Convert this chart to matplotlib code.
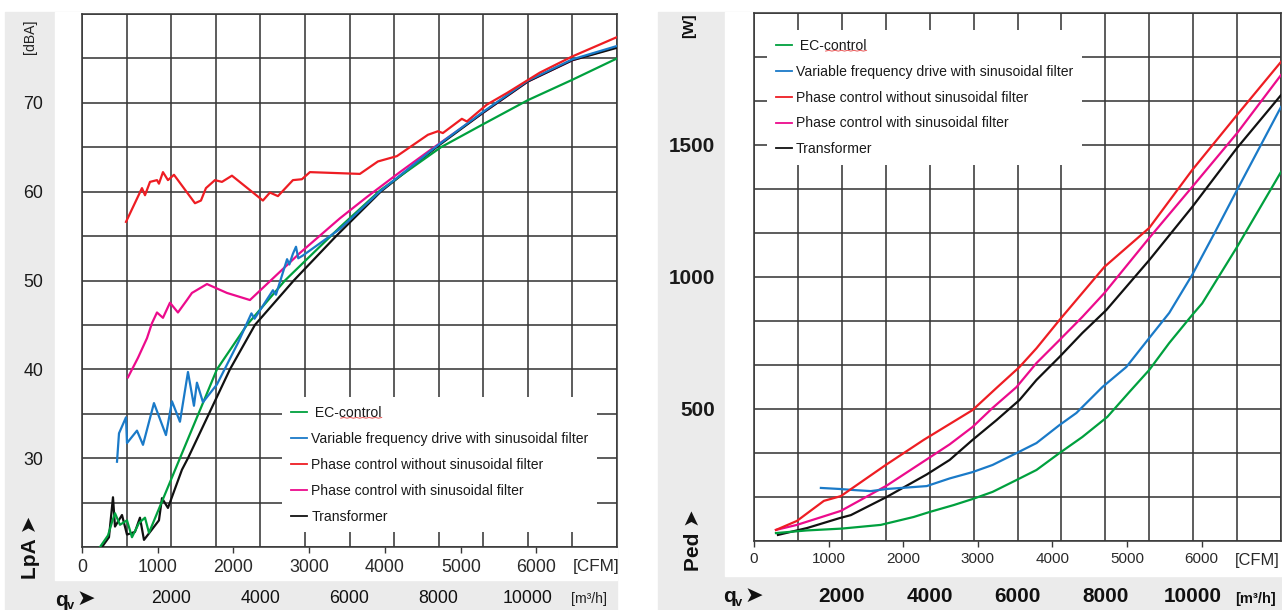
import numpy as np
import matplotlib
matplotlib.use("Agg")
import matplotlib.pyplot as plt
from matplotlib import font_manager, transforms
from matplotlib.lines import Line2D
from matplotlib.patches import Rectangle

W, H = 1282, 610
CFM_TO_M3H = 1.699

LABELS = ["EC-control",
          "Variable frequency drive with sinusoidal filter",
          "Phase control without sinusoidal filter",
          "Phase control with sinusoidal filter",
          "Transformer"]
COLORS = ["#00a03e", "#1a7ac8", "#ee1d23", "#ec0b8c", "#111111"]

# ---- left chart: LpA [dBA] over qv [m3/h]
ec_q = [404, 583, 673, 740, 852, 1009, 1121, 1278, 1413, 1502, 1800, 2197, 3027,
        3700, 4552, 5785, 6700, 8050, 9000, 10000, 11000, 12000]
ec_lpa = [20.0, 21.3, 22.8, 23.8, 22.5, 23.0, 21.1, 22.7, 23.3, 21.6, 25.2, 30.0,
          40.0, 45.0, 50.0, 56.0, 60.2, 65.0, 67.6, 70.3, 72.6, 75.0]

vfd_q = [785, 830, 987, 1009, 1233, 1368, 1614, 1883, 2018, 2197, 2377, 2511, 2578,
         2713, 3027, 3500, 3800, 3870, 4282, 4350, 4600, 4650, 4730, 4800, 4850,
         4950, 5785, 6700, 8000, 9000, 10000, 11000, 12000]
vfd_lpa = [29.6, 32.8, 34.6, 31.7, 33.1, 31.5, 36.2, 32.6, 36.4, 34.1, 39.7, 35.9, 38.5,
           36.3, 38.3, 43.0, 46.3, 45.7, 48.9, 48.4, 52.4, 51.8, 53.0, 53.8, 52.5,
           52.8, 55.8, 60.1, 65.3, 69.0, 72.5, 74.9, 76.4]

pc_q = [987, 1345, 1413, 1525, 1682, 1726, 1816, 1928, 2063, 2534, 2668, 2780, 2982,
        3139, 3363, 4058, 4215, 4395, 4731, 4933, 5112, 6233, 6637, 7063, 7758, 7982,
        8094, 8520, 8632, 9081, 9529, 10269, 10987, 12000]
pc_lpa = [56.6, 60.4, 59.6, 61.1, 61.3, 60.9, 62.2, 61.3, 61.9, 58.7, 59.0, 60.4, 61.3,
          61.1, 61.8, 59.0, 59.9, 59.5, 61.3, 61.4, 62.2, 62.0, 63.4, 64.0, 66.4, 66.8,
          66.6, 68.2, 67.9, 69.8, 71.1, 73.4, 75.2, 77.4]

pcf_q = [1031, 1256, 1457, 1570, 1682, 1816, 1973, 2152, 2354, 2466, 2803, 3251, 3767,
         4888, 5785, 6390, 7130, 7870, 9000, 10000, 11000, 12000]
pcf_lpa = [39.1, 41.3, 43.5, 45.2, 46.4, 45.8, 47.5, 46.4, 47.8, 48.6, 49.6, 48.6, 47.8,
           53.1, 57.0, 59.4, 62.2, 64.9, 68.9, 72.4, 74.8, 76.3]

tr_q = [448, 605, 695, 740, 897, 1009, 1188, 1300, 1390, 1726, 1794, 1928, 2242, 2377,
        3318, 3879, 4750, 5700, 6700, 8000, 9000, 10000, 11000, 12000]
tr_lpa = [20.0, 21.1, 25.6, 22.3, 23.6, 21.4, 21.7, 23.3, 20.8, 23.0, 25.5, 24.4, 28.7,
          30.0, 40.0, 45.0, 50.0, 55.0, 60.0, 65.2, 68.9, 72.4, 74.8, 76.2]

# ---- right chart: Ped [W] over qv [m3/h]
ec_q2 = [500, 1200, 2000, 2886, 3636, 4000, 4545, 4977, 5432, 5977, 6432, 6955, 7477,
         8045, 8545, 9000, 9455, 9977, 10205, 11000, 12000]
ec_p = [30, 40, 47, 61, 91, 110, 136, 159, 186, 231, 269, 333, 394,
        470, 564, 648, 750, 856, 900, 1114, 1398]

vfd_q2 = [1523, 1955, 2273, 2659, 3023, 3932, 4455, 4977, 5432, 5977, 6432, 6955, 7341,
          7932, 8477, 9000, 9455, 9977, 10523, 11000, 12000]
vfd_p = [201, 197, 193, 189, 197, 208, 237, 261, 288, 333, 371, 439, 485,
         583, 659, 769, 864, 1008, 1178, 1330, 1644]

pc_q2 = [500, 977, 1591, 1977, 3000, 3864, 4455, 4977, 5523, 6045, 6432, 6955,
         7977, 9000, 9977, 11000, 12000]
pc_p = [42, 76, 152, 170, 288, 383, 443, 496, 580, 659, 730, 837,
        1038, 1186, 1405, 1614, 1815]

pcf_q2 = [500, 977, 1977, 3023, 3932, 4455, 4977, 5432, 5977, 6432, 6955, 7477, 7977,
          9000, 9977, 11000, 12000]
pcf_p = [42, 61, 114, 210, 309, 366, 432, 504, 583, 674, 761, 849, 939,
         1148, 1341, 1545, 1765]

tr_q2 = [545, 1205, 1955, 2205, 3023, 3932, 4455, 4977, 5523, 6045, 6432, 6955, 7477,
         8023, 9000, 9977, 11000, 12000]
tr_p = [23, 49, 87, 98, 167, 252, 307, 383, 458, 534, 610, 697, 788,
        875, 1064, 1265, 1489, 1689]

CFM_TICKS = [0, 1000, 2000, 3000, 4000, 5000, 6000]
M3H_LABELS = [2000, 4000, 6000, 8000, 10000]

names = {f.name for f in font_manager.fontManager.ttflist}
NARROW = "Liberation Sans Narrow" in names
FONT = "Liberation Sans Narrow" if NARROW else "Liberation Sans"
K = 1.0 if NARROW else 0.88   # shrink wide font so the texts keep their widths
plt.rcParams["font.family"] = [FONT, "DejaVu Sans"]
plt.rcParams["axes.linewidth"] = 1.0

GRID = "#383838"
GRAY = "#ebebeb"

fig = plt.figure(figsize=(W / 100, H / 100), dpi=100)


def px(x, y):
    return x / W, 1 - y / H


def panel_bg(x0, x1, xw, y0, yw):
    # gray L-shaped frame behind each chart
    fig.add_artist(Rectangle(px(x0, H), (x1 - x0) / W, (H - y0) / H,
                             transform=fig.transFigure, color=GRAY, zorder=0))
    fig.add_artist(Rectangle(px(xw, yw), (x1 - xw) / W, (yw - y0) / H,
                             transform=fig.transFigure, color="white", zorder=0))


panel_bg(5, 617, 55, 12, 580)
panel_bg(658, 1282, 725, 12, 576)


def setup(ax, ylim, yticks, ylabels, ylabsize, ylabweight, cfmsize, cfmpad):
    ax.set_xlim(0, 12000)
    ax.set_ylim(*ylim)
    ax.xaxis.remove_overlapping_locs = False
    ax.set_xticks(np.arange(0, 12001, 1000))
    ax.set_xticklabels([])
    ax.set_yticks(yticks)
    ax.set_yticklabels(ylabels)
    ax.tick_params(axis="both", which="major", length=0)
    ax.tick_params(axis="y", pad=28, labelsize=ylabsize, labelcolor="#1a1a1a")
    for t in ax.get_yticklabels():
        t.set_fontweight(ylabweight)
    ax.set_xticks([c * CFM_TO_M3H for c in CFM_TICKS], minor=True)
    ax.set_xticklabels([str(c) for c in CFM_TICKS], minor=True)
    ax.tick_params(axis="x", which="minor", length=4, width=1, color=GRID,
                   direction="out", pad=cfmpad, labelsize=cfmsize, labelcolor="#2a2a2a")
    ax.grid(True, which="major", color=GRID, lw=1.15)
    for s in ax.spines.values():
        s.set_color(GRID)
        s.set_linewidth(1.15)


def legend(ax, anchor):
    handles = [Line2D([], [], color=c, lw=1.3) for c in COLORS]
    labels = [" " + LABELS[0]] + LABELS[1:]
    leg = ax.legend(handles, labels, loc="upper left", bbox_to_anchor=anchor,
                    borderaxespad=0, frameon=True, fancybox=False, facecolor="white",
                    edgecolor="none", framealpha=1, fontsize=11.5 * K, handlelength=1.15,
                    handletextpad=0.3, labelspacing=0.85, borderpad=0.62)
    for t in leg.get_texts():
        t.set_color("#1a1a1a")
    return leg


def plot_lines(ax, data):
    # draw order: pink, black, green, blue, red
    for i in (3, 4, 0, 1, 2):
        q, v = data[i]
        ax.plot(q, v, color=COLORS[i], lw=1.6, solid_joinstyle="round", zorder=3)


# ---- left
axl = fig.add_axes([82 / W, 1 - 547 / H, 535 / W, 533 / H], facecolor="white")
lt = np.arange(20, 81, 5)
setup(axl, (20, 80), lt, [str(v) if v % 10 == 0 and 30 <= v <= 70 else "" for v in lt],
      14.5 * K, "normal", 14.5 * K, 5)
plot_lines(axl, [(ec_q, ec_lpa), (vfd_q, vfd_lpa), (pc_q, pc_lpa),
                 (pcf_q, pcf_lpa), (tr_q, tr_lpa)])
legl = legend(axl, (0.374, 0.2814))

# ---- right
axr = fig.add_axes([754 / W, 1 - 541 / H, 527 / W, 528 / H], facecolor="white")
rt = np.linspace(0, 2000, 13)
setup(axr, (0, 2000), rt, [str(int(round(v))) if i in (3, 6, 9) else "" for i, v in enumerate(rt)],
      17 * K, "bold", 12.5 * K, 4)
plot_lines(axr, [(ec_q2, ec_p), (vfd_q2, vfd_p), (pc_q2, pc_p),
                 (pcf_q2, pcf_p), (tr_q2, tr_p)])
legr = legend(axr, (0.0246, 0.968))

# secondary m3/h labels in the gray strip
for ax, yax, size, weight in ((axl, -0.0957, 14.5 * K, "normal"), (axr, -0.106, 17 * K, "bold")):
    tr = transforms.blended_transform_factory(ax.transData, ax.transAxes)
    for v in M3H_LABELS:
        ax.text(v, yax, str(v), transform=tr, ha="center", va="center",
                fontsize=size, fontweight=weight, color="#111111", clip_on=False)


def qv(x, y, bold_size):
    fig.text(*px(x, y), "q", ha="left", va="center", fontsize=bold_size,
             fontweight="bold", color="#111111")
    fig.text(*px(x + 12, y + 6), "v", ha="left", va="center", fontsize=bold_size * 0.62,
             fontweight="bold", color="#111111")
    fig.text(*px(x + 22, y - 1), "➤", ha="left", va="center", fontsize=16,
             family="DejaVu Sans", color="#111111")


# axis captions
fig.text(*px(30, 37), "[dBA]", rotation=90, ha="center", va="center", fontsize=11.5 * K,
         color="#222222")
fig.text(*px(31, 547), "LpA ➤", rotation=90, ha="center", va="center", fontsize=15,
         fontweight="bold", color="#111111")
qv(55, 600, 15)
fig.text(*px(596, 566), "[CFM]", ha="center", va="center", fontsize=14 * K, color="#2a2a2a")
fig.text(*px(589, 599), "[m³/h]", ha="center", va="center", fontsize=11.5 * K, color="#222222")

fig.text(*px(689, 26), "[W]", rotation=90, ha="center", va="center", fontsize=12.5 * K,
         fontweight="bold", color="#111111")
fig.text(*px(693, 540), "Ped ➤", rotation=90, ha="center", va="center", fontsize=15,
         fontweight="bold", color="#111111")
qv(723, 597, 15)
fig.text(*px(1257, 561), "[CFM]", ha="center", va="center", fontsize=13.5 * K, color="#2a2a2a")
fig.text(*px(1256, 599), "[m³/h]", ha="center", va="center", fontsize=12 * K,
         fontweight="bold", color="#111111")

# red spell-check squiggle under "control"
fig.canvas.draw()
for leg in (legl, legr):
    bb = leg.get_texts()[0].get_window_extent()
    xs = np.linspace(bb.x0 + 0.42 * bb.width, bb.x1, 14)
    ys = bb.y0 + 1.5 + 0.8 * (np.arange(14) % 2)
    fig.add_artist(Line2D(xs / W, ys / H, transform=fig.transFigure,
                          color="#e85a5a", lw=0.7, zorder=10))

fig.savefig("out.png", dpi=100)
